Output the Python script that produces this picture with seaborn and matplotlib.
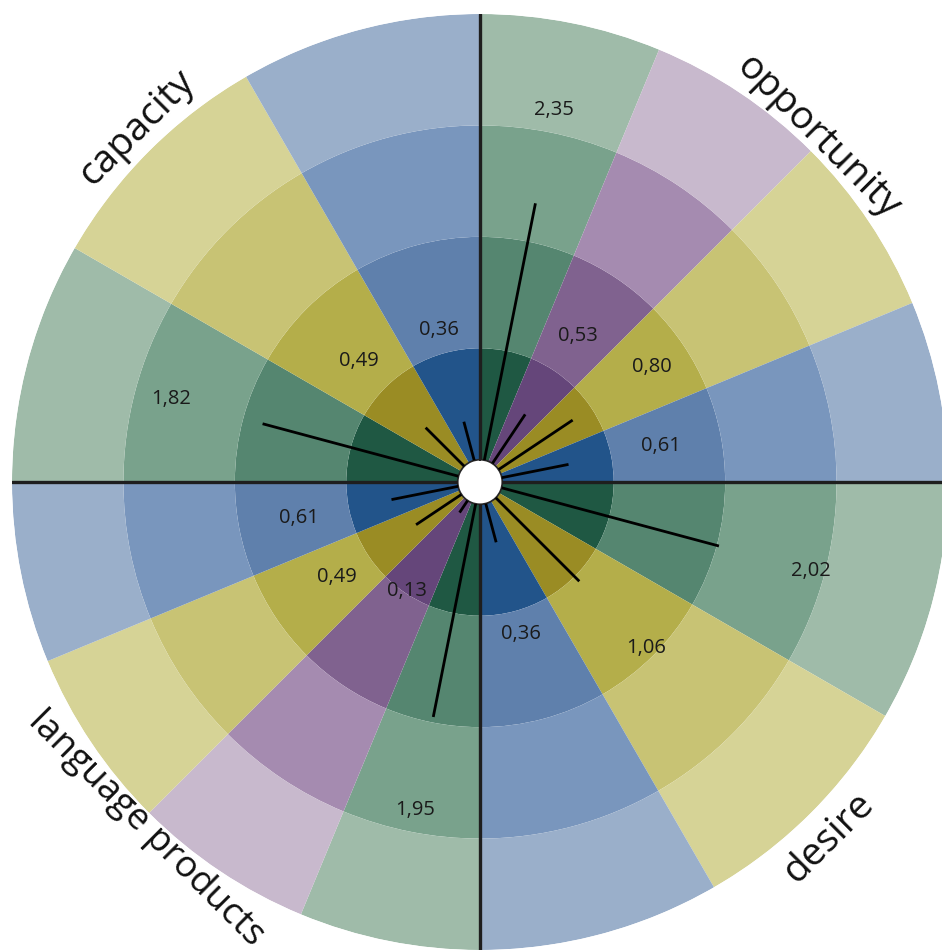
import numpy as np
import matplotlib
matplotlib.use("Agg")
import matplotlib.pyplot as plt
import seaborn as sns

# ---- data ----
categories = ["opportunity", "desire", "language products", "capacity"]
opportunity_hues = ["green", "purple", "yellow", "blue"]
opportunity_values = [2.35, 0.53, 0.80, 0.61]
desire_hues = ["green", "yellow", "blue"]
desire_values = [2.02, 1.06, 0.36]
language_hues = ["green", "purple", "yellow", "blue"]
language_values = [1.95, 0.13, 0.49, 0.61]
capacity_hues = ["green", "yellow", "blue"]
capacity_values = [1.82, 0.49, 0.36]

groups = [
    (opportunity_hues, opportunity_values),
    (desire_hues, desire_values),
    (language_hues, language_values),
    (capacity_hues, capacity_values),
]

# ring colours, inner -> outer
ring_colors = {
    "blue":   ["#22548a", "#5f80ac", "#7996bd", "#9aafca"],
    "green":  ["#1f5843", "#558670", "#79a28c", "#9fbba9"],
    "yellow": ["#9a8c24", "#b4ae4a", "#c8c374", "#d6d396"],
    "purple": ["#65467a", "#80628f", "#a58bb0", "#c8b9cd"],
}

sns.set_theme(style="white")
plt.rcParams["font.family"] = ["Open Sans", "DejaVu Sans"]

fig = plt.figure(figsize=(9.42, 9.52), dpi=100)
R = 468
cx, cy = 480, 952 - 482
ax = fig.add_axes([(cx - R) / 942, (cy - R) / 952, 2 * R / 942, 2 * R / 952],
                  projection="polar")
ax.set_theta_zero_location("N")
ax.set_theta_direction(-1)
ax.set_ylim(0, 4)
ax.set_rorigin(-0.2)
ax.grid(False)
ax.set_xticks([])
ax.set_yticks([])
for s in ax.spines.values():
    s.set_visible(False)
ax.set_facecolor("none")

n_rings = 4
for gi, (hues, vals) in enumerate(groups):
    start = np.deg2rad(90 * gi)
    w = np.deg2rad(90 / len(vals))
    for si, (hue, v) in enumerate(zip(hues, vals)):
        th = start + w * (si + 0.5)
        for k in range(n_rings):
            ax.bar(th, 1, width=w, bottom=k, color=ring_colors[hue][k],
                   edgecolor="none", linewidth=0, align="center")
        ax.plot([th, th], [0, v], color="black", lw=2, solid_capstyle="butt", zorder=5)
        ax.text(th, v + 0.85, f"{v:.2f}".replace(".", ","), ha="center", va="center",
                fontsize=14.5, color="#1a1a1a", zorder=6)

# quadrant separators
for q in range(4):
    th = np.deg2rad(90 * q)
    ax.plot([th, th], [0, 4], color="#1e1e1e", lw=2.4, zorder=4)

# category labels
cat_angles = [44.5, 135.5, 224.0, 316]
cat_radii = [4.13, 4.27, 4.12, 4.22]
cat_sizes = [28, 28, 26.5, 28]
cat_rot = [-45, 45, -45, 45]
for name, a, r, fs, rot in zip(categories, cat_angles, cat_radii, cat_sizes, cat_rot):
    ax.text(np.deg2rad(a), r, name, ha="center", va="center", rotation=rot,
            rotation_mode="anchor", fontsize=fs, color="#111111", clip_on=False)

fig.savefig("out.png", dpi=100)
